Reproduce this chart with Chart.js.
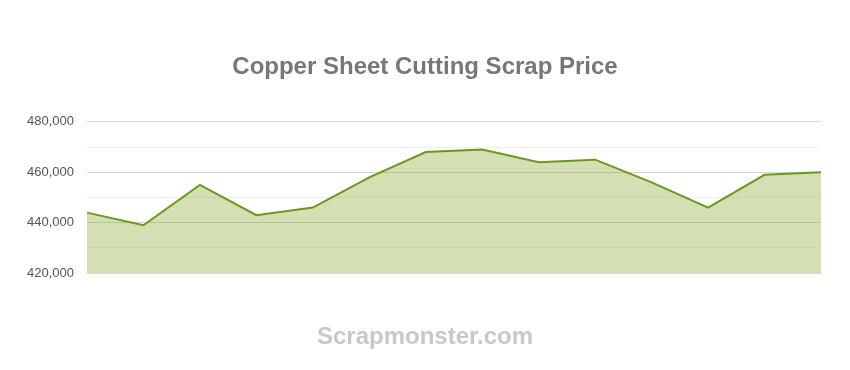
<!DOCTYPE html>
<html>
<head>
<meta charset="utf-8">
<script src="https://cdn.jsdelivr.net/npm/chart.js@4.4.1/dist/chart.umd.min.js"></script>
<style>
  html, body { margin: 0; padding: 0; background: #fff; }
  #wrap { width: 850px; height: 370px; }
</style>
</head>
<body>
<div id="wrap"><canvas id="c" width="850" height="370"></canvas></div>
<script>
// Weekly price points (hidden category axis)
const periods = ['W1','W2','W3','W4','W5','W6','W7','W8','W9','W10','W11','W12','W13','W14'];
const prices = [444000, 439000, 455000, 443000, 446000, 458000, 468000, 469000, 464000, 465000, 456000, 446000, 459000, 460000];
const yTicks = [420000, 440000, 460000, 480000];

const fmt = v => v.toLocaleString('en-US');

new Chart(document.getElementById('c'), {
  type: 'line',
  data: {
    labels: periods,
    datasets: [{
      data: prices,
      borderColor: '#6b981c',
      borderWidth: 2,
      backgroundColor: 'rgba(125,161,28,0.33)',
      fill: 'start',
      tension: 0,
      pointRadius: 0,
      pointHoverRadius: 0
    }]
  },
  options: {
    responsive: false,
    animation: false,
    layout: { padding: { left: 14, right: 14, top: 0, bottom: 0 } },
    plugins: {
      legend: { display: false },
      tooltip: { enabled: false },
      title: {
        display: true,
        text: 'Copper Sheet Cutting Scrap Price',
        color: '#777777',
        font: { family: 'Liberation Sans, Arial, sans-serif', size: 24, weight: 'bold' },
        padding: { top: 53, bottom: 40 }
      },
      subtitle: {
        display: true,
        position: 'bottom',
        text: 'Scrapmonster.com',
        color: '#c8c8c8',
        font: { family: 'Liberation Sans, Arial, sans-serif', size: 24, weight: 'bold' },
        padding: { top: 50, bottom: 18 }
      }
    },
    scales: {
      x: { display: false },
      y: {
        min: yTicks[0],
        max: yTicks[yTicks.length - 1],
        border: { display: false },
        afterFit: s => { s.width = 73; },
        grid: {
          drawTicks: false,
          lineWidth: 1,
          color: ctx => (ctx.tick && ctx.tick.value % 20000 === 0) ? '#d6d6d6' : '#f0f0f0'
        },
        ticks: {
          stepSize: 10000,
          padding: 13,
          color: '#555555',
          font: { family: 'Liberation Sans, Arial, sans-serif', size: 13 },
          callback: v => yTicks.includes(v) ? fmt(v) : ''
        }
      },
      // empty right-hand gutter so the plot ends where the headings stay centred
      gutter: {
        type: 'linear',
        position: 'right',
        border: { display: false },
        grid: { display: false, drawTicks: false },
        ticks: { display: false },
        afterFit: s => { s.width = 15; }
      }
    }
  }
});
</script>
</body>
</html>
